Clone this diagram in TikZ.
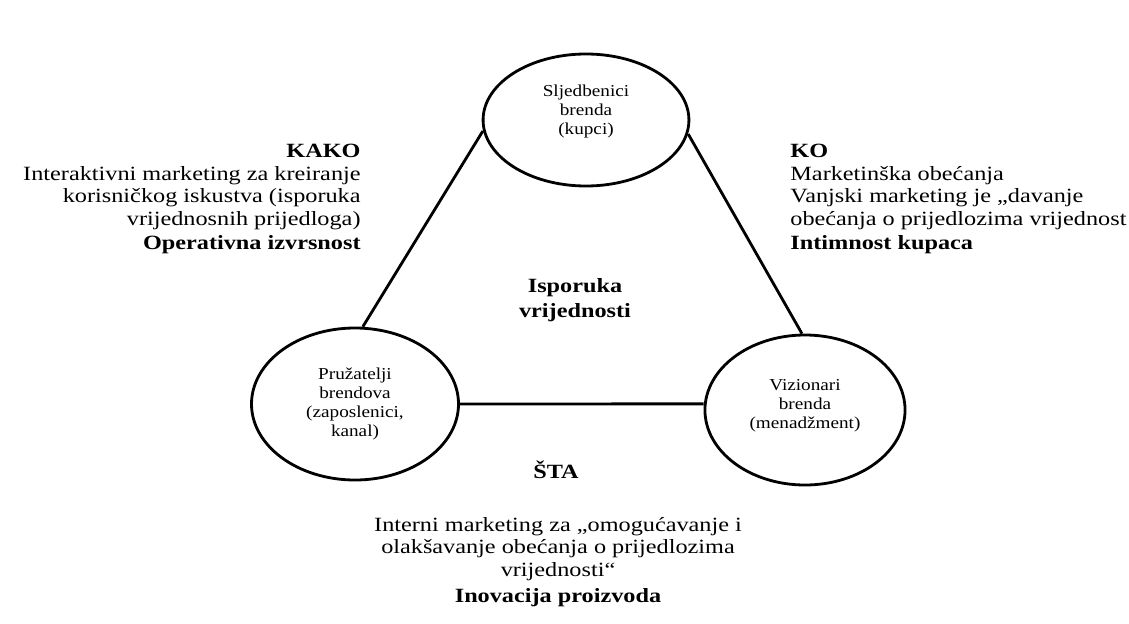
\documentclass[tikz,border=0pt]{standalone}
\usepackage{fontspec}
\setmainfont{Liberation Serif}
\usetikzlibrary{shapes.geometric}
\tikzset{
grupa/.style={draw, ellipse, line width=1.6pt, inner sep=0pt, align=center,
  font=\fontsize{9.5}{10.8}\selectfont, xscale=1.15},
tekst/.style={inner sep=0pt, font=\fontsize{11.5}{12.8}\selectfont, xscale=1.2},
veza/.style={line width=1.6pt}
}

\begin{document}
\begin{tikzpicture}
\useasboundingbox (0,0) rectangle (22.58,12.46);
% tri grupe
\node[grupa, minimum width=3.58cm, minimum height=2.64cm] (kupci) at (11.72,10.06) {Sljedbenici\\brenda\\(kupci)\\[1pt]};
\node[grupa, minimum width=3.6cm, minimum height=3.04cm] (pruzatelji) at (7.10,4.38) {Pružatelji\\brendova\\(zaposlenici,\\kanal)};
\node[grupa, minimum width=3.48cm, minimum height=3.0cm] (vizionari) at (16.10,4.26) {\\[-9pt]Vizionari\\brenda\\(menadžment)};
% stranice trokuta
\draw[veza] (kupci.187) -- (pruzatelji.85);
\draw[veza] (kupci.351) -- (vizionari.92);
\draw[veza] (pruzatelji.0) -- (vizionari.176);
% tekstovi
\node[tekst, anchor=north east, align=right] (kako) at (7.22,9.58) {\textbf{KAKO}\\Interaktivni marketing za kreiranje\\korisničkog iskustva (isporuka\\vrijednosnih prijedloga)\\[1pt]\textbf{Operativna izvrsnost}};
\node[tekst, anchor=north west, align=left] (ko) at (15.80,9.58) {\textbf{KO}\\Marketinška obećanja\\Vanjski marketing je „davanje\\obećanja o prijedlozima vrijednost\\[1pt]\textbf{Intimnost kupaca}};
\node[tekst, align=center, font=\fontsize{11.5}{14}\selectfont\bfseries] (isporuka) at (11.50,6.46) {Isporuka\\vrijednosti};
\node[tekst, font=\fontsize{11.5}{12.8}\selectfont\bfseries] (sta) at (11.12,3.06) {ŠTA};
\node[tekst, align=center] (interni) at (11.16,1.22) {Interni marketing za „omogućavanje i\\olakšavanje obećanja o prijedlozima\\vrijednosti“\\[2pt]\textbf{Inovacija proizvoda}};
\end{tikzpicture}
\end{document}
